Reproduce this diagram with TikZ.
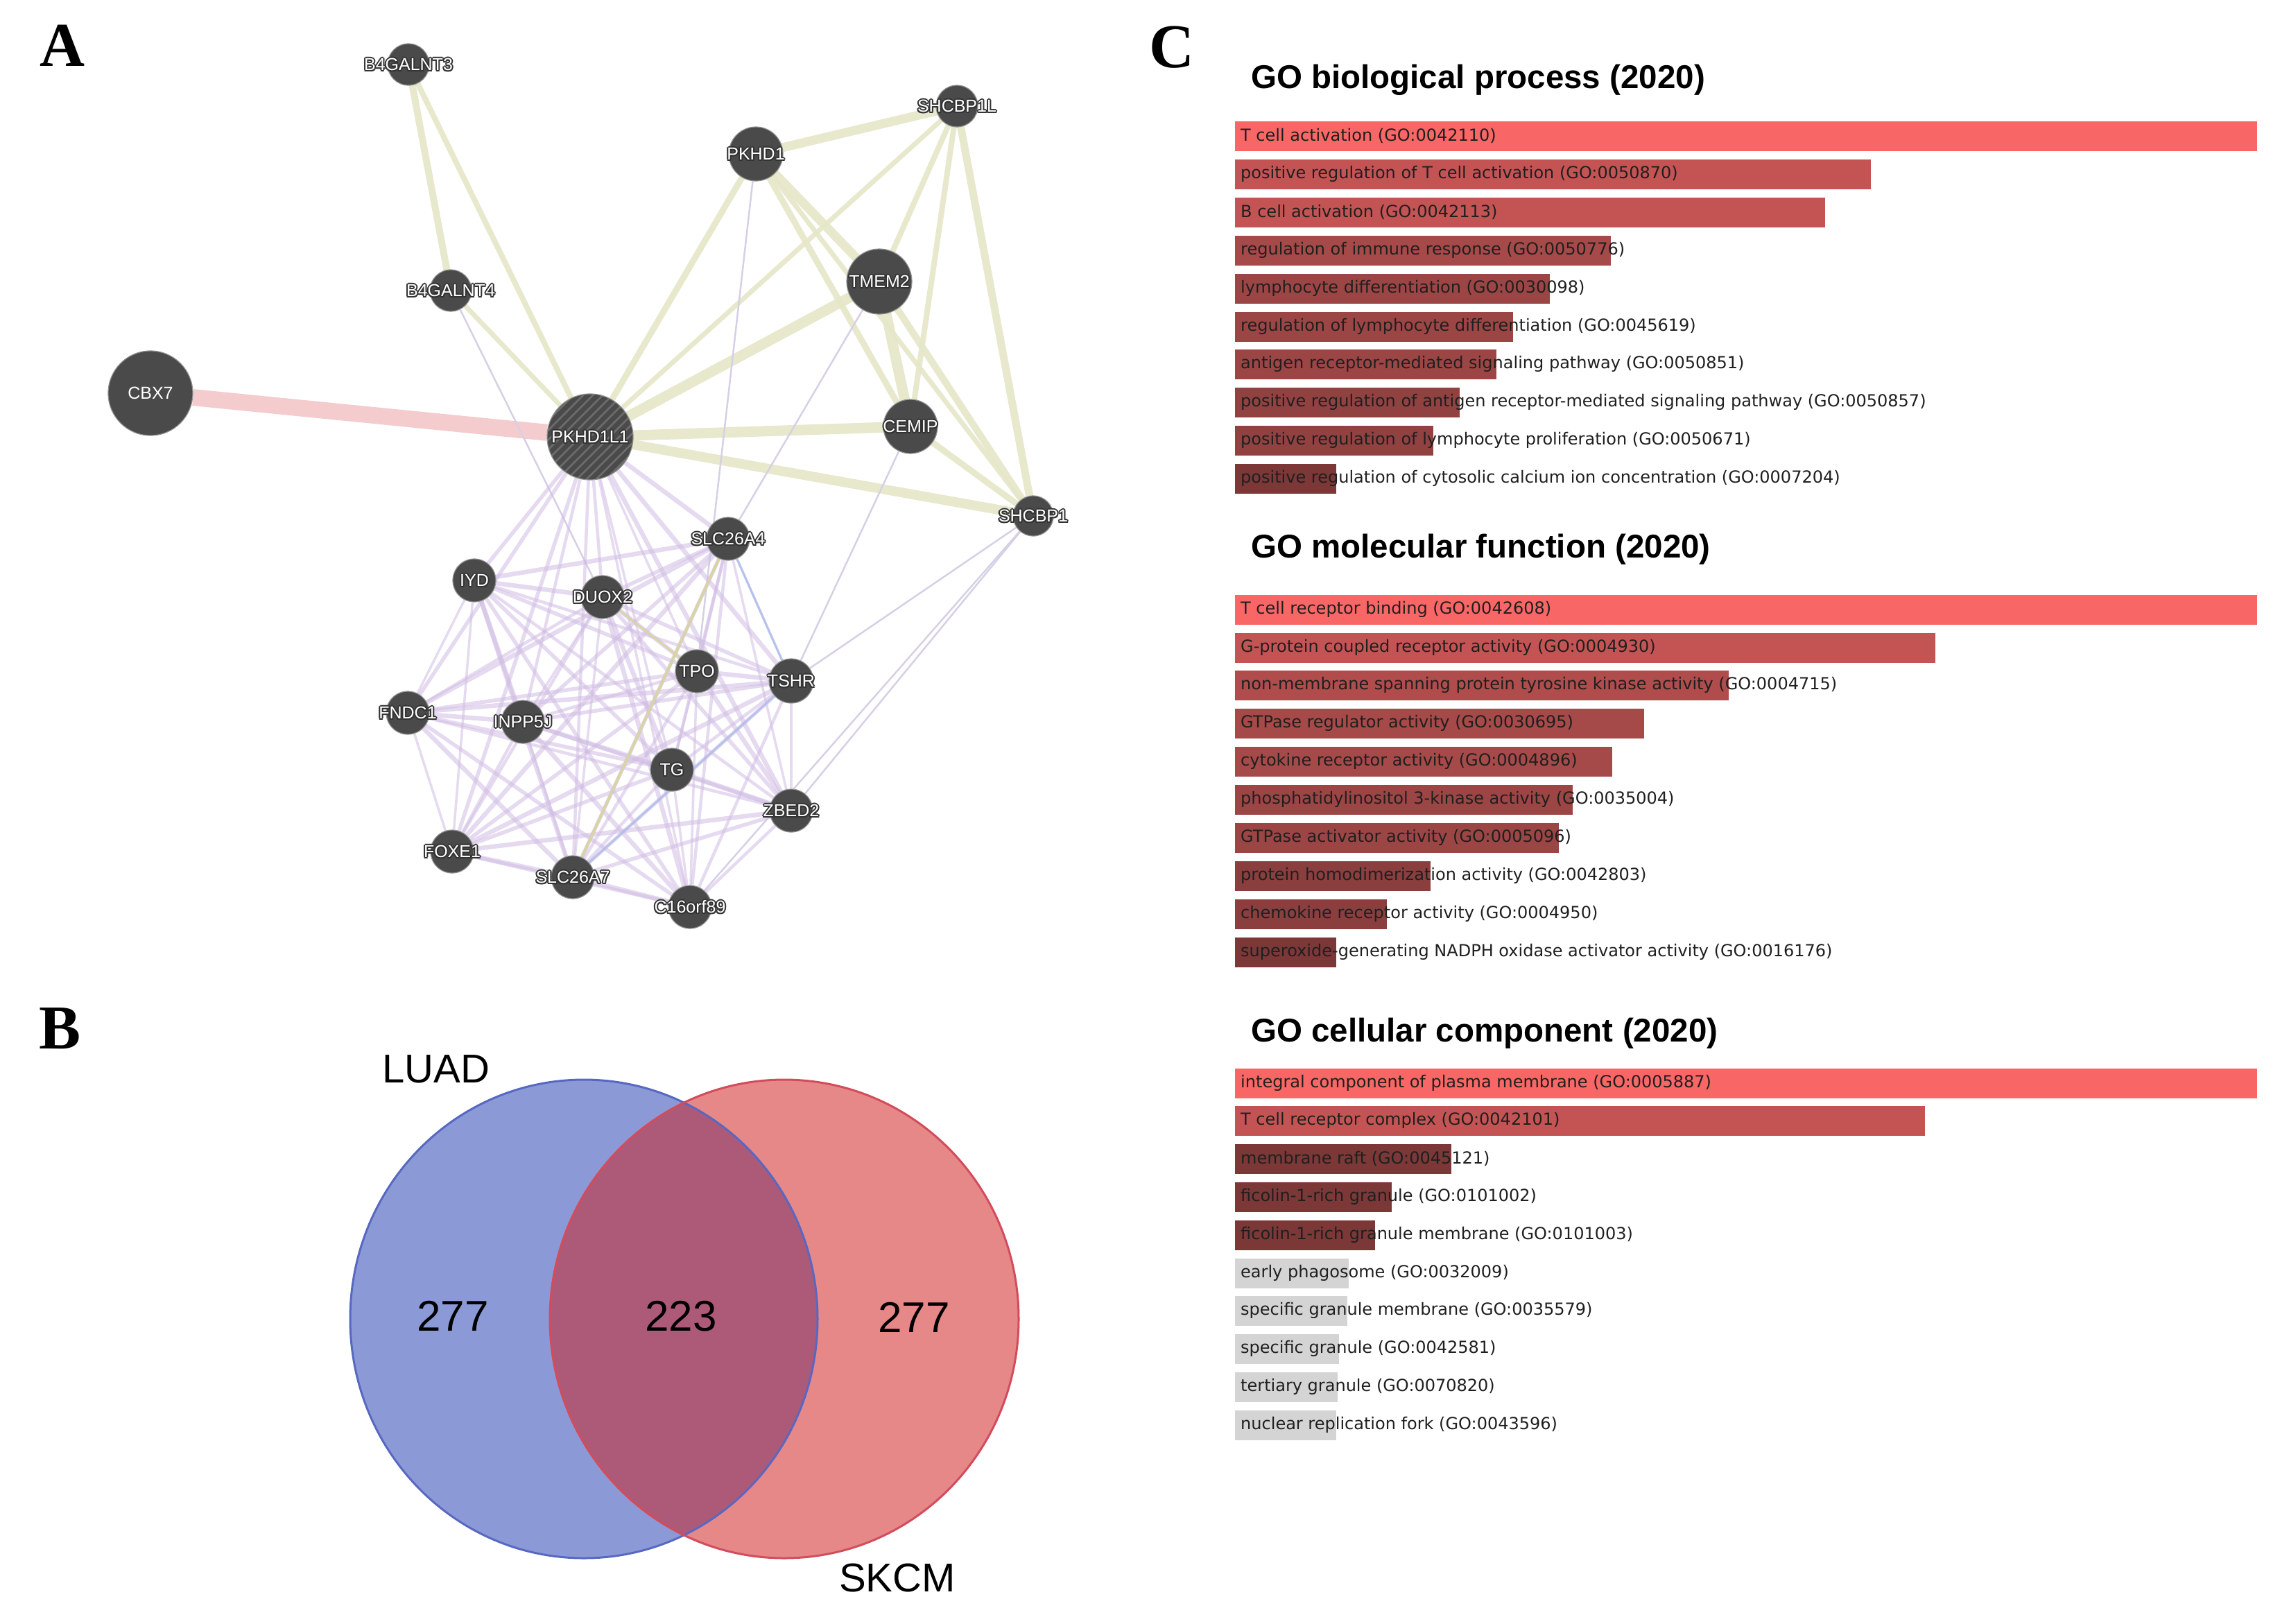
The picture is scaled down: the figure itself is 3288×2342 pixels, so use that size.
\documentclass[tikz,border=0pt]{standalone}
\usepackage{fontspec}
\setmainfont{Liberation Serif}
\newfontfamily\arialf{Liberation Sans}
\newfontfamily\dejaf{DejaVu Sans}
\usetikzlibrary{backgrounds}
\definecolor{nodefill}{HTML}{4A4A4A}
\definecolor{halo}{HTML}{333333}
\definecolor{yel}{HTML}{E6E6C8}
\definecolor{pur}{HTML}{D0BCE3}
\definecolor{thn}{HTML}{D6D0E6}
\definecolor{blu}{HTML}{ABBCEA}
\definecolor{pnk}{HTML}{F4CCCE}
\definecolor{oli}{HTML}{D8D4A8}
\definecolor{hatchc}{HTML}{6C6C6C}
\definecolor{vblue}{HTML}{8B9AD6}
\definecolor{vred}{HTML}{E68888}
\definecolor{vmix}{HTML}{AD5A78}
\definecolor{vblueb}{HTML}{5868C2}
\definecolor{vredb}{HTML}{D24C5C}
\definecolor{ba}{HTML}{F86666}
\definecolor{bb}{HTML}{C45454}
\definecolor{bc}{HTML}{B04C4C}
\definecolor{bd}{HTML}{A64949}
\definecolor{be}{HTML}{9C4545}
\definecolor{bf}{HTML}{924141}
\definecolor{bg}{HTML}{8A3E3E}
\definecolor{bh}{HTML}{7C3737}
\definecolor{bgray}{HTML}{D4D4D4}
\newcommand{\halotxt}[1]{\makebox[0pt]{\leavevmode
 \rlap{\kern-2pt\textcolor{halo}{#1}}%
 \rlap{\kern2pt\textcolor{halo}{#1}}%
 \rlap{\raisebox{2pt}{\textcolor{halo}{#1}}}%
 \rlap{\raisebox{-2pt}{\textcolor{halo}{#1}}}%
 \rlap{\kern-1.4pt\raisebox{1.4pt}{\textcolor{halo}{#1}}}%
 \rlap{\kern1.4pt\raisebox{1.4pt}{\textcolor{halo}{#1}}}%
 \rlap{\kern-1.4pt\raisebox{-1.4pt}{\textcolor{halo}{#1}}}%
 \rlap{\kern1.4pt\raisebox{-1.4pt}{\textcolor{halo}{#1}}}%
 \textcolor{white}{#1}}}
\tikzset{
  gnode/.style={circle, fill=nodefill, draw=nodefill!60!white, line width=1.2pt, inner sep=0pt,
    font=\arialf\fontsize{25pt}{30pt}\selectfont},
  yedge/.style={draw=yel, draw opacity=0.9, line cap=round},
  pedge/.style={draw=pur, draw opacity=0.55},
  tedge/.style={draw=thn, line width=2.5pt},
  bedge/.style={draw=blu, draw opacity=0.8, line width=3pt},
  panel/.style={font=\bfseries\fontsize{90pt}{100pt}\selectfont, inner sep=0pt},
  gotitle/.style={anchor=west, inner sep=0pt, font=\arialf\bfseries\fontsize{47.5pt}{55pt}\selectfont},
  barlabel/.style={anchor=west, inner sep=0pt, text=black!88, font=\dejaf\fontsize{24pt}{28pt}\selectfont},
  venntxt/.style={inner sep=0pt, font=\arialf\fontsize{62pt}{70pt}\selectfont},
  vennset/.style={inner sep=0pt, font=\arialf\fontsize{58pt}{66pt}\selectfont}
}
\begin{document}
\begin{tikzpicture}[x=1pt,y=-1pt]
\useasboundingbox (0,0) rectangle (3288,2342);

% panel labels
\node[panel] (lblA) at (90,66) {A};
\node[panel] (lblB) at (87,1483) {B};
\node[panel] (lblC) at (1690,68) {C};

% ---------------- network nodes ----------------
\node[gnode, minimum size=60pt] (B4GALNT3) at (589,93) {\halotxt{B4GALNT3}};
\node[gnode, minimum size=60pt] (SHCBP1L) at (1380,153) {\halotxt{SHCBP1L}};
\node[gnode, minimum size=78pt] (PKHD1) at (1090,222) {\halotxt{PKHD1}};
\node[gnode, minimum size=94pt] (TMEM2) at (1268,406) {\halotxt{TMEM2}};
\node[gnode, minimum size=60pt] (B4GALNT4) at (650,419) {\halotxt{B4GALNT4}};
\node[gnode, minimum size=122pt] (CBX7) at (217,567) {\textcolor{white}{CBX7}};
\node[gnode, minimum size=124pt,
  path picture={\foreach \k in {-10,...,10}
    \draw[hatchc, line width=2.6pt] ([xshift=\k*14pt]path picture bounding box.center) ++(-80pt,-80pt) -- ++(160pt,160pt);}]
  (PKHD1L1) at (851,630) {\halotxt{PKHD1L1}};
\node[gnode, minimum size=78pt] (CEMIP) at (1313,615) {\halotxt{CEMIP}};
\node[gnode, minimum size=58pt] (SHCBP1) at (1490,744) {\halotxt{SHCBP1}};
\node[gnode, minimum size=62pt] (SLC26A4) at (1050,777) {\halotxt{SLC26A4}};
\node[gnode, minimum size=62pt] (IYD) at (684,837) {\halotxt{IYD}};
\node[gnode, minimum size=62pt] (DUOX2) at (869,861) {\halotxt{DUOX2}};
\node[gnode, minimum size=62pt] (TPO) at (1005,968) {\halotxt{TPO}};
\node[gnode, minimum size=64pt] (TSHR) at (1141,982) {\halotxt{TSHR}};
\node[gnode, minimum size=62pt] (FNDC1) at (588,1028) {\halotxt{FNDC1}};
\node[gnode, minimum size=62pt] (INPP5J) at (754,1041) {\halotxt{INPP5J}};
\node[gnode, minimum size=62pt] (TG) at (969,1110) {\halotxt{TG}};
\node[gnode, minimum size=62pt] (ZBED2) at (1141,1169) {\halotxt{ZBED2}};
\node[gnode, minimum size=62pt] (FOXE1) at (652,1228) {\halotxt{FOXE1}};
\node[gnode, minimum size=62pt] (SLC26A7) at (826,1265) {\halotxt{SLC26A7}};
\node[gnode, minimum size=62pt] (C16orf89) at (995,1308) {\halotxt{C16orf89}};

% ---------------- network edges ----------------
\begin{scope}[on background layer]
\draw[draw=pnk, line width=24pt] (CBX7) -- (PKHD1L1);
% yellow edges
\draw[yedge, line width=10pt] (B4GALNT3) -- (B4GALNT4);
\draw[yedge, line width=8pt] (B4GALNT3) -- (PKHD1L1);
\draw[yedge, line width=7pt] (B4GALNT4) -- (PKHD1L1);
\draw[yedge, line width=9pt] (PKHD1) -- (PKHD1L1);
\draw[yedge, line width=13pt] (PKHD1) -- (SHCBP1L);
\draw[yedge, line width=13pt] (PKHD1) -- (TMEM2);
\draw[yedge, line width=9pt] (PKHD1) -- (CEMIP);
\draw[yedge, line width=7pt] (PKHD1) -- (SHCBP1);
\draw[yedge, line width=7pt] (SHCBP1L) -- (PKHD1L1);
\draw[yedge, line width=8pt] (SHCBP1L) -- (TMEM2);
\draw[yedge, line width=8pt] (SHCBP1L) -- (CEMIP);
\draw[yedge, line width=11pt] (SHCBP1L) -- (SHCBP1);
\draw[yedge, line width=15pt] (TMEM2) -- (PKHD1L1);
\draw[yedge, line width=15pt] (TMEM2) -- (CEMIP);
\draw[yedge, line width=10pt] (TMEM2) -- (SHCBP1);
\draw[yedge, line width=15pt] (CEMIP) -- (PKHD1L1);
\draw[yedge, line width=9pt] (CEMIP) -- (SHCBP1);
\draw[yedge, line width=14pt] (PKHD1L1) -- (SHCBP1);
% thin grey-lavender edges
\draw[tedge] (B4GALNT4) -- (DUOX2);
\draw[tedge] (PKHD1) -- (TPO);
\draw[tedge] (TMEM2) -- (SLC26A4);
\draw[tedge] (CEMIP) -- (TSHR);
\draw[tedge] (SHCBP1) -- (TSHR);
\draw[tedge] (SHCBP1) -- (ZBED2);
\draw[tedge] (SHCBP1) -- (C16orf89);
% purple cluster
\foreach \a [count=\i] in {PKHD1L1,SLC26A4,IYD,DUOX2,TPO,TSHR,FNDC1,INPP5J,TG,ZBED2,FOXE1,SLC26A7,C16orf89}{
  \foreach \b [count=\j] in {PKHD1L1,SLC26A4,IYD,DUOX2,TPO,TSHR,FNDC1,INPP5J,TG,ZBED2,FOXE1,SLC26A7,C16orf89}{
    \ifnum\j>\i
      \pgfmathsetmacro\lw{3.5+mod(\i*5+\j*3,4)}
      \draw[pedge, line width=\lw pt] (\a) -- (\b);
    \fi
  }
}
% blue and olive edges
\draw[bedge] (SLC26A4) -- (SLC26A7);
\draw[bedge] (TSHR) -- (SLC26A7);
\draw[bedge] (SLC26A4) -- (TSHR);
\draw[draw=oli, line width=4pt] (SLC26A4) -- (SLC26A7);
\draw[draw=oli, line width=3pt] (DUOX2) -- (TPO);
\end{scope}

% ---------------- Venn diagram ----------------
\fill[vblue] (842,1902) ellipse [x radius=337, y radius=345];
\fill[vred] (1131,1902) ellipse [x radius=338, y radius=345];
\begin{scope}
  \clip (842,1902) ellipse [x radius=337, y radius=345];
  \fill[vmix] (1131,1902) ellipse [x radius=338, y radius=345];
\end{scope}
\draw[vblueb, line width=3pt] (842,1902) ellipse [x radius=337, y radius=345];
\draw[vredb, line width=3pt] (1131,1902) ellipse [x radius=338, y radius=345];
\node[vennset] (luad) at (629,1542) {LUAD};
\node[vennset] (skcm) at (1294,2276) {SKCM};
\node[venntxt] (nl) at (653,1898) {277};
\node[venntxt] (nm) at (982,1898) {223};
\node[venntxt] (nr) at (1318,1900) {277};

% ---------------- GO bar charts ----------------
\node[gotitle] (tbp) at (1804,115) {GO biological process (2020)};
\node[gotitle] (tmf) at (1804,792) {GO molecular function (2020)};
\node[gotitle] (tcc) at (1804,1490) {GO cellular component (2020)};

\foreach \yc/\xe/\cl/\tx [count=\n] in {
196/3255/ba/T cell activation (GO:0042110),
251/2698/bb/positive regulation of T cell activation (GO:0050870),
306/2632/bb/B cell activation (GO:0042113),
361/2323/bd/regulation of immune response (GO:0050776),
416/2235/be/lymphocyte differentiation (GO:0030098),
471/2182/be/regulation of lymphocyte differentiation (GO:0045619),
525/2158/be/antigen receptor-mediated signaling pathway (GO:0050851),
580/2105/bf/positive regulation of antigen receptor-mediated signaling pathway (GO:0050857),
635/2067/bf/positive regulation of lymphocyte proliferation (GO:0050671),
690/1927/bh/positive regulation of cytosolic calcium ion concentration (GO:0007204)}{
  \fill[\cl] (1781,\yc-21.5) rectangle (\xe,\yc+21.5);
  \node[barlabel] (bp\n) at (1789,\yc) {\tx};
}

\foreach \yc/\xe/\cl/\tx [count=\n] in {
879/3255/ba/T cell receptor binding (GO:0042608),
934/2791/bb/G-protein coupled receptor activity (GO:0004930),
988/2493/bc/non-membrane spanning protein tyrosine kinase activity (GO:0004715),
1043/2371/bd/GTPase regulator activity (GO:0030695),
1098/2325/bd/cytokine receptor activity (GO:0004896),
1153/2268/be/phosphatidylinositol 3-kinase activity (GO:0035004),
1208/2248/be/GTPase activator activity (GO:0005096),
1263/2063/bg/protein homodimerization activity (GO:0042803),
1318/2000/bg/chemokine receptor activity (GO:0004950),
1373/1927/bh/superoxide-generating NADPH oxidase activator activity (GO:0016176)}{
  \fill[\cl] (1781,\yc-21.5) rectangle (\xe,\yc+21.5);
  \node[barlabel] (mf\n) at (1789,\yc) {\tx};
}

\foreach \yc/\xe/\cl/\tx [count=\n] in {
1562/3255/ba/integral component of plasma membrane (GO:0005887),
1616/2776/bb/T cell receptor complex (GO:0042101),
1671/2093/bh/membrane raft (GO:0045121),
1726/2007/bh/ficolin-1-rich granule (GO:0101002),
1781/1983/bh/ficolin-1-rich granule membrane (GO:0101003),
1836/1945/bgray/early phagosome (GO:0032009),
1890/1943/bgray/specific granule membrane (GO:0035579),
1945/1931/bgray/specific granule (GO:0042581),
2000/1929/bgray/tertiary granule (GO:0070820),
2055/1927/bgray/nuclear replication fork (GO:0043596)}{
  \fill[\cl] (1781,\yc-21.5) rectangle (\xe,\yc+21.5);
  \node[barlabel] (cc\n) at (1789,\yc) {\tx};
}
\end{tikzpicture}
\end{document}
